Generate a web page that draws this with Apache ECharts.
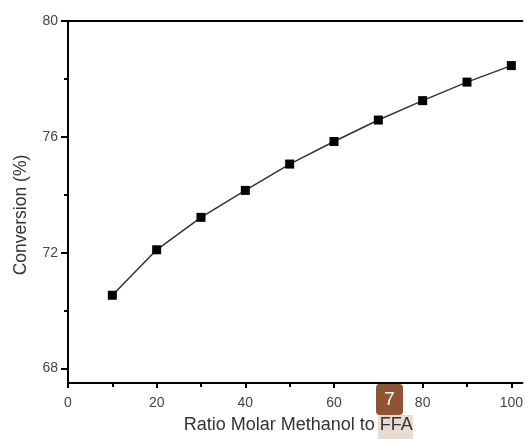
<!DOCTYPE html>
<html><head><meta charset="utf-8">
<script src="https://cdn.jsdelivr.net/npm/echarts@6/dist/echarts.min.js"></script>
<style>html,body{margin:0;padding:0;background:#fff}#c{width:526px;height:439px}</style>
</head><body><div id="c"></div>
<script>
const ratios = [10, 20, 30, 40, 50, 60, 70, 80, 90, 100];
const conversion = [70.53, 72.10, 73.22, 74.15, 75.06, 75.84, 76.58, 77.25, 77.89, 78.46];
const xMajorTicks = [0, 20, 40, 60, 80, 100];
const xMinorTicks = [10, 30, 50, 70, 90];
const yMajorTicks = [68, 72, 76, 80];
const yMinorTicks = [70, 74, 78];
const xTitle = 'Ratio Molar Methanol to FFA';
const yTitle = 'Conversion (%)';

const chart = echarts.init(document.getElementById('c'));
const font = 'Liberation Sans, Arial, sans-serif';
const labelStyle = {color: '#444', fontSize: 14, fontFamily: font};
chart.setOption({
  animation: false,
  grid: {left: 68, top: 21, right: 0, bottom: 56},
  xAxis: [
    {type: 'value', min: 0, max: 102.5, position: 'bottom',
     axisLine: {show: true, onZero: false, lineStyle: {color: '#000', width: 2}},
     axisTick: {show: true, length: 5, customValues: xMajorTicks, lineStyle: {color: '#000', width: 2}},
     axisLabel: Object.assign({customValues: xMajorTicks, margin: 13}, labelStyle),
     splitLine: {show: false},
     name: xTitle, nameLocation: 'middle', nameGap: 33,
     nameTextStyle: {color: '#333', fontSize: 18, fontFamily: font, padding: [0, 0, 0, 6]}},
    {type: 'value', min: 0, max: 102.5, position: 'bottom', gridIndex: 0,
     axisLine: {show: false, onZero: false},
     axisTick: {show: true, length: 4, customValues: xMinorTicks, lineStyle: {color: '#000', width: 2}},
     axisLabel: {show: false}, splitLine: {show: false}},
    {type: 'value', min: 0, max: 102.5, position: 'top',
     axisLine: {show: true, onZero: false, lineStyle: {color: '#000', width: 2}},
     axisTick: {show: false}, axisLabel: {show: false}, splitLine: {show: false}}
  ],
  yAxis: [
    {type: 'value', min: 67.5, max: 80, position: 'left',
     axisLine: {show: true, onZero: false, lineStyle: {color: '#000', width: 2}},
     axisTick: {show: true, length: 7, customValues: yMajorTicks, lineStyle: {color: '#000', width: 2}},
     axisLabel: Object.assign({customValues: yMajorTicks, margin: 10}, labelStyle),
     splitLine: {show: false}},
    {type: 'value', min: 67.5, max: 80, position: 'left',
     axisLine: {show: false, onZero: false},
     axisTick: {show: true, length: 4, customValues: yMinorTicks, lineStyle: {color: '#000', width: 2}},
     axisLabel: {show: false}, splitLine: {show: false}}
  ],
  graphic: [
    {type: 'text', x: 21, y: 215, rotation: Math.PI / 2,
     style: {text: yTitle, fill: '#333', font: '17.5px ' + font, textAlign: 'center', textVerticalAlign: 'middle'}},
    {type: 'rect', z: -1, shape: {x: 378, y: 415, width: 35, height: 24}, style: {fill: '#EADBD0'}},
    {type: 'rect', z: 100, shape: {x: 376, y: 384, width: 27, height: 31, r: 4}, style: {fill: '#8E5433'}},
    {type: 'text', z: 101, x: 389.5, y: 400, style: {text: '7', fill: '#fff', font: '19px ' + font, textAlign: 'center', textVerticalAlign: 'middle'}}
  ],
  series: [{
    type: 'line', xAxisIndex: 0, yAxisIndex: 0,
    data: ratios.map((r, i) => [r, conversion[i]]),
    symbol: 'rect', symbolSize: 9,
    lineStyle: {color: '#333', width: 1.5},
    itemStyle: {color: '#000'}
  }]
});
</script></body></html>
